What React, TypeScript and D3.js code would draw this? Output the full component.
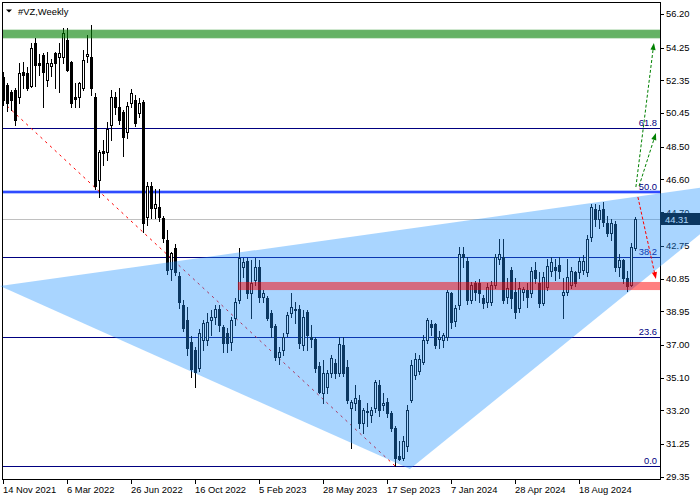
import React from "react";
import * as d3 from "d3";

const W = 700;
const H = 500;

const symbolTitle = "#VZ,Weekly";
const firstWeek = "2021-11-14";

const opens = [
  52.54, 52.07, 51.66, 51.78, 51.37, 52.83, 52.77, 52.01, 54.52, 53.36,
  53.82, 52.36, 53.2, 53.94, 53.71, 53.71, 54.7, 53.41, 51.37, 51.37,
  51.89, 53.76, 53.71, 51.4, 46.56, 48.23, 48.19, 49.73, 51.37, 50.79,
  50.5, 49.36, 51.02, 51.2, 50.44, 51.08, 44.43, 46.21, 44.96, 45.01,
  44.37, 43.08, 41.41, 42.62, 41.0, 39.33, 38.45, 37.17, 36.7, 35.65,
  37.29, 37.29, 38.45, 38.63, 39.09, 38.04, 37.69, 37.17, 38.57, 39.6,
  41.53, 41.88, 40.01, 40.77, 41.53, 39.78, 39.72, 38.86, 38.1, 36.29,
  36.7, 37.69, 38.86, 39.1, 39.09, 36.99, 38.92, 37.46, 37.34, 35.8,
  34.19, 34.54, 35.36, 35.94, 35.36, 36.99, 35.7, 33.31, 33.61, 33.78,
  32.44, 33.15, 32.91, 33.31, 34.66, 33.49, 33.66, 33.02, 32.2, 30.57,
  30.45, 31.15, 33.78, 35.24, 35.5, 36.0, 37.29, 38.22, 38.22, 37.34,
  37.29, 37.46, 40.03, 38.4, 39.33, 42.25, 41.84, 39.62, 40.61, 40.61,
  39.74, 39.5, 39.5, 40.5, 41.96, 42.07, 39.8, 41.37, 40.09, 39.15,
  40.09, 40.2, 40.03, 41.37, 40.61, 39.45, 40.38, 41.26, 41.49, 41.66,
  39.91, 40.09, 40.5, 41.2, 41.2, 41.37, 41.2, 43.24, 44.87, 44.3,
  44.9, 44.1, 43.5, 44.0, 41.5, 41.9, 40.9, 40.5, 42.6,
];
const highs = [
  52.83, 52.2, 51.78, 51.9, 53.36, 53.41, 53.1, 54.52, 54.8, 53.9,
  53.94, 54.0, 53.6, 54.0, 54.52, 55.4, 55.4, 53.5, 52.19, 52.25,
  54.12, 54.99, 55.57, 51.6, 48.33, 48.89, 49.94, 51.78, 51.66, 51.89,
  50.61, 51.1, 51.85, 51.5, 51.3, 51.2, 46.44, 46.44, 46.06, 46.06,
  44.46, 43.66, 42.38, 42.86, 41.24, 39.6, 39.2, 37.5, 36.9, 37.9,
  38.45, 38.86, 39.04, 39.33, 39.33, 38.16, 37.99, 38.63, 39.74, 42.62,
  42.05, 42.05, 41.94, 42.05, 41.94, 40.18, 39.84, 39.04, 38.2, 36.9,
  37.69, 38.92, 40.03, 39.5, 39.33, 39.04, 39.04, 38.16, 37.46, 36.0,
  36.12, 35.53, 36.41, 36.2, 37.46, 37.46, 36.1, 33.78, 34.66, 34.07,
  33.31, 33.61, 33.37, 34.95, 34.95, 34.19, 33.9, 33.14, 32.3, 31.44,
  31.74, 33.49, 36.12, 36.5, 36.4, 37.58, 38.57, 38.45, 38.28, 37.8,
  37.69, 40.2, 40.09, 39.33, 42.66, 42.66, 42.1, 40.67, 40.7, 40.8,
  39.9, 40.61, 40.7, 42.25, 43.12, 43.12, 40.9, 41.49, 40.9, 40.67,
  40.38, 40.61, 41.49, 41.78, 41.2, 41.2, 41.96, 42.07, 41.96, 42.1,
  40.9, 41.96, 41.49, 41.3, 42.07, 42.2, 43.4, 45.2, 45.17, 45.1,
  45.3, 44.5, 44.3, 44.2, 42.3, 42.0, 41.3, 42.9, 44.4,
];
const lows = [
  50.9, 50.6, 50.61, 49.77, 51.02, 51.89, 51.8, 51.95, 52.0, 52.66,
  50.79, 52.0, 52.6, 51.89, 51.7, 53.36, 52.9, 50.79, 50.79, 50.79,
  51.8, 53.4, 51.5, 46.03, 45.56, 47.43, 47.72, 48.89, 50.4, 49.8,
  47.96, 49.03, 50.8, 49.7, 50.2, 43.55, 43.96, 44.37, 44.37, 44.16,
  42.96, 41.14, 40.78, 41.08, 39.13, 37.8, 36.4, 35.12, 34.54, 35.5,
  36.7, 37.0, 37.6, 38.2, 37.8, 36.58, 36.58, 36.7, 38.16, 39.43,
  40.94, 39.72, 38.57, 40.48, 39.48, 39.48, 38.45, 37.46, 36.1, 35.9,
  36.4, 37.5, 38.6, 38.28, 36.82, 36.7, 36.7, 36.9, 35.4, 34.19,
  33.61, 34.19, 35.12, 35.1, 35.2, 35.2, 33.6, 31.03, 33.2, 32.2,
  31.9, 32.32, 32.5, 33.08, 32.9, 33.2, 32.8, 32.0, 29.97, 30.3,
  30.3, 30.86, 33.66, 35.0, 35.3, 35.9, 37.1, 37.58, 36.82, 36.82,
  36.9, 37.29, 38.0, 38.1, 39.1, 41.5, 39.4, 39.45, 39.6, 39.5,
  39.15, 39.2, 39.3, 40.3, 41.7, 39.45, 39.45, 39.15, 38.57, 38.92,
  39.6, 39.21, 39.8, 40.6, 39.2, 39.3, 40.2, 41.0, 40.79, 40.9,
  38.57, 39.9, 40.3, 40.4, 40.9, 41.1, 41.0, 43.0, 43.9, 43.8,
  43.9, 43.3, 43.1, 41.3, 41.0, 40.6, 40.1, 40.4, 42.5,
];
const closes = [
  51.2, 51.02, 51.2, 50.03, 52.77, 52.66, 51.89, 54.23, 53.24, 53.24,
  52.83, 53.36, 53.36, 53.36, 53.94, 55.11, 52.95, 51.02, 51.25, 52.19,
  53.53, 53.85, 51.89, 46.21, 48.19, 48.13, 49.53, 51.37, 50.79, 50.03,
  49.07, 50.85, 51.6, 49.86, 51.02, 44.08, 46.21, 44.95, 45.16, 44.43,
  43.2, 41.35, 42.34, 41.24, 39.48, 37.99, 36.82, 35.6, 35.4, 37.69,
  38.28, 38.34, 38.63, 39.09, 38.16, 37.11, 37.11, 38.45, 39.5, 42.03,
  41.82, 40.01, 40.59, 41.53, 39.78, 40.01, 38.57, 38.04, 36.3, 36.58,
  37.46, 38.74, 39.21, 39.0, 37.11, 38.63, 37.58, 37.34, 35.65, 34.25,
  35.36, 35.36, 36.23, 35.36, 37.05, 35.36, 33.78, 33.66, 33.9, 32.44,
  33.2, 33.08, 33.2, 34.83, 33.2, 33.61, 33.02, 32.2, 30.45, 30.39,
  31.44, 33.2, 35.83, 36.2, 36.2, 37.29, 38.45, 38.04, 36.99, 37.46,
  37.58, 40.09, 38.34, 39.15, 42.25, 42.07, 39.62, 40.5, 40.09, 40.03,
  39.45, 40.38, 40.5, 42.07, 42.25, 39.62, 40.32, 39.74, 38.92, 40.32,
  40.26, 39.8, 41.26, 40.9, 39.45, 40.96, 41.55, 41.78, 41.37, 41.26,
  40.09, 40.96, 41.26, 40.61, 41.84, 41.84, 43.12, 44.99, 44.29, 44.8,
  44.12, 43.5, 44.1, 41.5, 41.9, 40.9, 40.4, 42.7, 44.31,
];

const priceTicks = [56.2, 54.25, 52.35, 50.45, 48.5, 46.6, 44.7, 42.75, 40.85, 38.95, 37.0, 35.1, 33.2, 31.25, 29.35];
const dateTickDates = ["2021-11-14", "2022-03-06", "2022-06-26", "2022-10-16", "2023-02-05", "2023-05-28", "2023-09-17", "2024-01-07", "2024-04-28", "2024-08-18"];
const dateTickLabels = ["14 Nov 2021", "6 Mar 2022", "26 Jun 2022", "16 Oct 2022", "5 Feb 2023", "28 May 2023", "17 Sep 2023", "7 Jan 2024", "28 Apr 2024", "18 Aug 2024"];

const fibLabels = ["0.0", "23.6", "38.2", "50.0", "61.8"];
const fibPrices = [29.97, 37.46, 42.1, 45.87, 49.59];
const lastPrice = 44.31;

const resistanceZone = [54.81, 55.27];
const supportZone = [40.18, 40.65];
const supportZoneStartWeek = 58.6;

// triangle anchors: [week offset, price]
const wedgeWeeks = [-0.875, 101.6, 191.5];
const wedgePrices = [40.41, 29.79, 46.69];

// dashed trend line: [week offset, price]
const trendWeeks = [0.9, 97.9];
const trendPrices = [50.86, 29.97];

// forecast arrows: from (week, price) to (week, price)
const arrowFromWeeks = [158.1, 158.9, 158.6];
const arrowFromPrices = [46.16, 46.22, 45.58];
const arrowToWeeks = [162.6, 163.1, 163.1];
const arrowToPrices = [54.52, 49.29, 40.82];
const arrowColors = ["#008000", "#008000", "#ff0000"];

const FONT = "'Liberation Sans', Arial, sans-serif";
const FS = 9.4;

const parseDay = d3.utcParse("%Y-%m-%d");
const start = parseDay(firstWeek) as Date;
const wk = (w: number) => new Date(start.getTime() + w * 7 * 86400000);

export default function App() {
  const left = 2;
  const right = 660;
  const top = 2;
  const bottom = 479;

  const x = d3.scaleUtc().domain([wk(0), wk(158)]).range([3.5, 635.5]);
  const y = d3.scaleLinear().domain([29.35, 56.2]).range([476.7, 14]);
  const ry = (p: number) => Math.round(y(p));
  const sy = (p: number) => Math.round(y(p)) + 0.5;

  const candles = opens.map((o, i) => ({
    date: wk(i),
    o,
    h: highs[i],
    l: lows[i],
    c: closes[i],
  }));

  const wedgePts = wedgeWeeks.map((w, i) => [x(wk(w)), y(wedgePrices[i])]);
  const wedgePath = d3.line()(wedgePts as [number, number][]) + "Z";

  const arrowHead = (x1: number, y1: number, x2: number, y2: number) => {
    const dx = x2 - x1;
    const dy = y2 - y1;
    const len = Math.hypot(dx, dy);
    const ux = dx / len;
    const uy = dy / len;
    const hl = 7;
    const hw = 2.6;
    const bx = x2 - ux * hl;
    const by = y2 - uy * hl;
    return `${x2},${y2} ${bx - uy * hw},${by + ux * hw} ${bx + uy * hw},${by - ux * hw}`;
  };

  return (
    <div style={{ position: "absolute", left: 0, top: 0, width: W, height: H, background: "#fff" }}>
      <svg width={W} height={H} viewBox={`0 0 ${W} ${H}`} style={{ display: "block" }}>
        <rect x={0} y={0} width={W} height={H} fill="#ffffff" />

        {/* horizontal levels */}
        <line x1={left} x2={right} y1={sy(lastPrice)} y2={sy(lastPrice)} stroke="#c0c0c0" strokeWidth={1} />
        {fibPrices.map((p, i) =>
          fibLabels[i] === "50.0" ? null : (
            <line key={"fl" + i} x1={left} x2={right} y1={sy(p)} y2={sy(p)} stroke="#000080" strokeWidth={1} />
          )
        )}
        {fibPrices.map((p, i) =>
          fibLabels[i] === "50.0" ? (
            <g key={"fb" + i}>
              <line x1={left} x2={right} y1={y(p)} y2={y(p)} stroke="#6f8cff" strokeWidth={3.2} />
              <line x1={left} x2={right} y1={y(p)} y2={y(p)} stroke="#1a36ff" strokeWidth={1.6} />
            </g>
          ) : null
        )}

        {/* dashed trend line */}
        <line
          x1={x(wk(trendWeeks[0]))}
          y1={y(trendPrices[0])}
          x2={x(wk(trendWeeks[1]))}
          y2={y(trendPrices[1])}
          stroke="#ff0000"
          strokeWidth={1}
          strokeDasharray="2.5,4"
        />

        {/* candles */}
        <g shapeRendering="crispEdges">
          {candles.map((d, i) => {
            const cx = Math.floor(x(d.date));
            const yh = ry(d.h);
            const yl = ry(d.l);
            const yo = ry(d.o);
            const yc = ry(d.c);
            const bull = d.c >= d.o;
            return (
              <g key={i}>
                <rect x={cx} y={yh} width={1} height={Math.max(1, yl - yh + 1)} fill="#000" />
                {bull ? (
                  yo - yc >= 1 ? (
                    <rect x={cx - 0.5} y={yc + 0.5} width={2} height={yo - yc} fill="#fff" stroke="#000" strokeWidth={1} />
                  ) : (
                    <rect x={cx - 1} y={yc} width={3} height={1} fill="#000" />
                  )
                ) : (
                  <rect x={cx - 1} y={yo} width={3} height={Math.max(1, yc - yo + 1)} fill="#000" />
                )}
              </g>
            );
          })}
        </g>

        {/* resistance zone */}
        <rect
          x={left}
          y={y(resistanceZone[1])}
          width={right - left}
          height={y(resistanceZone[0]) - y(resistanceZone[1])}
          fill="#008000"
          fillOpacity={0.5}
        />
        <rect
          x={left}
          y={y(resistanceZone[1]) - 1}
          width={right - left}
          height={y(resistanceZone[0]) - y(resistanceZone[1]) + 2}
          fill="#008000"
          fillOpacity={0.2}
        />

        {/* frame and axes */}
        <g shapeRendering="crispEdges">
          <rect x={left + 0.5} y={top + 0.5} width={right - left} height={bottom - top} fill="none" stroke="#000" strokeWidth={1} />
          {priceTicks.map((p, i) => (
            <line key={"pt" + i} x1={right} x2={right + 4} y1={sy(p)} y2={sy(p)} stroke="#000" strokeWidth={1} />
          ))}
          {dateTickDates.map((d, i) => {
            const tx = Math.floor(x(parseDay(d) as Date)) + 0.5;
            return <line key={"dt" + i} x1={tx} x2={tx} y1={bottom} y2={bottom + 5} stroke="#000" strokeWidth={1} />;
          })}
        </g>
        {priceTicks.map((p, i) => (
          <text key={"ptl" + i} x={666} y={y(p) + 3.4} fontFamily={FONT} fontSize={FS} fill="#000">
            {p.toFixed(2)}
          </text>
        ))}
        {dateTickDates.map((d, i) => (
          <text key={"dtl" + i} x={Math.floor(x(parseDay(d) as Date))} y={492.5} fontFamily={FONT} fontSize={FS} fill="#000">
            {dateTickLabels[i]}
          </text>
        ))}

        {/* fib labels */}
        {fibPrices.map((p, i) => (
          <text key={"fbl" + i} x={657} y={ry(p) - 2} textAnchor="end" fontFamily={FONT} fontSize={FS} fill="#000080">
            {fibLabels[i]}
          </text>
        ))}

        {/* last price box */}
        <rect x={661} y={ry(lastPrice) - 6} width={39} height={12} fill="#000" />
        <text x={665} y={ry(lastPrice) + 3.5} fontFamily={FONT} fontSize={FS} fill="#fff">
          {lastPrice.toFixed(2)}
        </text>

        {/* title */}
        <polygon points="6,9.5 12,9.5 9,12.5" fill="#000" />
        <text x={18} y={14.5} fontFamily={FONT} fontSize={FS} fill="#000">
          {symbolTitle}
        </text>

        {/* wedge overlay */}
        <path d={wedgePath} fill="#1e90ff" fillOpacity={0.38} />

        {/* support zone */}
        <rect
          x={x(wk(supportZoneStartWeek))}
          y={y(supportZone[1])}
          width={right - x(wk(supportZoneStartWeek))}
          height={y(supportZone[0]) - y(supportZone[1])}
          fill="#ff0000"
          fillOpacity={0.5}
        />

        {/* forecast arrows */}
        {arrowFromWeeks.map((w, i) => {
          const x1 = x(wk(w));
          const y1 = y(arrowFromPrices[i]);
          const x2 = x(wk(arrowToWeeks[i]));
          const y2 = y(arrowToPrices[i]);
          const len = Math.hypot(x2 - x1, y2 - y1);
          const k = (len - 6) / len;
          return (
            <g key={"ar" + i}>
              <line
                x1={x1}
                y1={y1}
                x2={x1 + (x2 - x1) * k}
                y2={y1 + (y2 - y1) * k}
                stroke={arrowColors[i]}
                strokeWidth={1}
                strokeDasharray="3,2"
              />
              <polygon points={arrowHead(x1, y1, x2, y2)} fill={arrowColors[i]} />
            </g>
          );
        })}
      </svg>
    </div>
  );
}
